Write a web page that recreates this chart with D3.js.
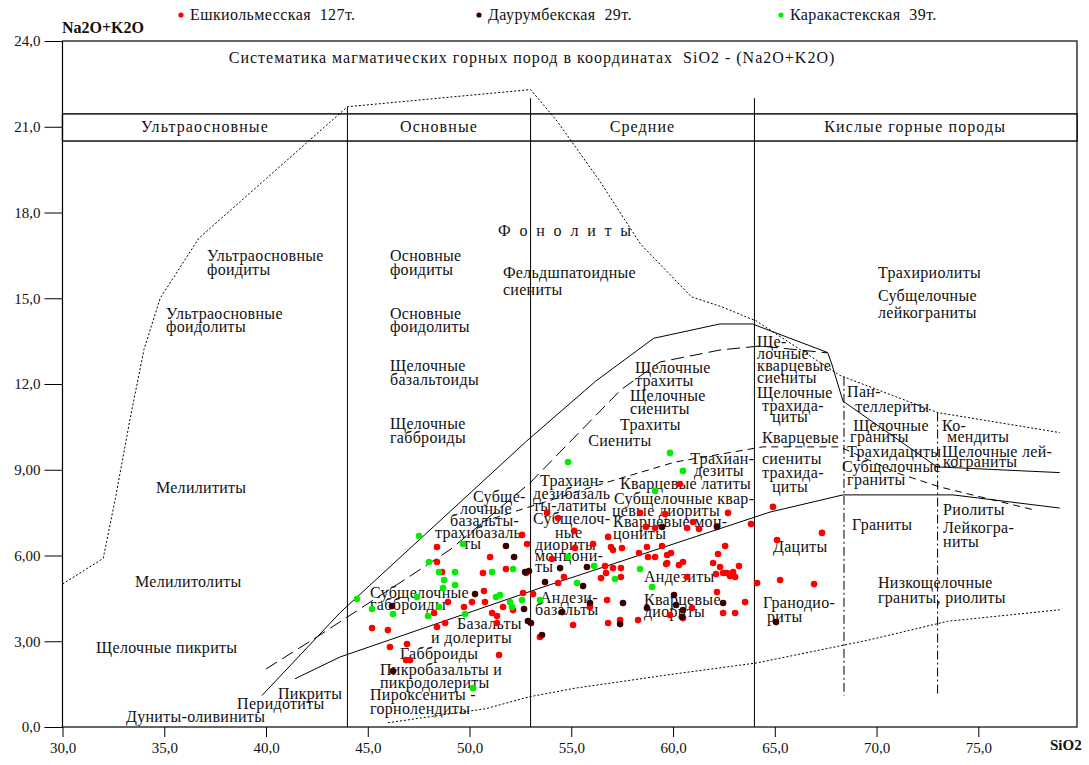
<!DOCTYPE html>
<html><head><meta charset="utf-8">
<script src="https://cdn.jsdelivr.net/npm/d3@7"></script>
<style>
html,body{margin:0;padding:0;background:#fff;}
svg{display:block;font-family:"Liberation Serif","Times New Roman",serif;}
svg text{white-space:pre;}
</style></head><body>
<svg id="chart" width="1089" height="765"></svg>
<script>
// ---------------- DATA ----------------
const seriesNames = ["Ешкиольмесская  127т.", "Даурумбекская  29т.", "Каракастекская  39т."];
const seriesColors = ["#ff0000", "#3a0000", "#00ee00"];

const xTicks = [30,35,40,45,50,55,60,65,70,75];
const xTickLabels = ["30,0","35,0","40,0","45,0","50,0","55,0","60,0","65,0","70,0","75,0"];
const yTicks = [0,3,6,9,12,15,18,21,24];
const yTickLabels = ["0,0","3,00","6,00","9,00","12,0","15,0","18,0","21,0","24,0"];

// [SiO2, Na2O+K2O]
const eshkiolmes = [
[48.40,6.30],[48.40,5.77],[48.65,5.42],[51.01,5.95],[50.66,5.39],[51.79,5.53],[52.58,6.72],[52.83,6.40],
[52.78,5.39],[50.71,4.76],[50.12,4.37],[49.73,4.20],[50.76,4.37],[48.94,4.37],[48.26,3.99],[48.40,3.50],
[48.80,3.64],[45.21,3.46],[45.99,3.39],[46.09,2.80],[46.93,2.90],[46.88,2.34],[51.45,2.52],[51.11,3.99],
[51.65,4.20],[52.14,4.09],[52.63,4.69],[53.12,4.65],[51.35,3.64],[53.46,3.15],[47.08,2.34],[51.35,3.88],
[53.81,7.49],[54.35,7.31],[55.14,6.86],[55.18,6.26],[56.81,6.65],[56.07,6.40],[56.95,6.30],[57.05,6.19],
[57.49,6.26],[58.33,6.09],[58.77,5.95],[59.12,5.95],[59.66,5.70],[58.38,7.49],[58.67,7.00],[59.12,6.96],
[59.61,7.45],[54.05,5.88],[54.64,5.25],[54.35,5.04],[56.66,5.63],[57.05,5.56],[57.44,5.56],[57.44,5.25],
[56.46,5.21],[56.76,4.44],[55.92,4.20],[55.09,3.57],[56.81,3.64],[57.40,3.74],[58.28,3.74],[60.34,8.50],
[62.70,7.49],[60.98,7.17],[60.69,6.96],[61.28,6.93],[64.91,7.70],[63.83,7.10],[65.11,6.54],[62.56,6.33],
[62.21,6.05],[59.46,6.33],[59.90,6.09],[59.71,5.74],[60.29,5.67],[60.49,5.77],[61.97,5.74],[62.31,5.60],
[62.65,5.39],[62.95,5.42],[63.24,5.63],[62.46,5.39],[62.80,5.28],[63.05,5.25],[62.11,5.35],[60.69,5.25],
[64.13,5.04],[65.26,5.14],[62.16,4.72],[63.54,4.37],[62.46,3.99],[63.05,3.99],[60.93,4.16],[59.85,3.92],
[60.49,3.81],[67.32,6.79],[66.93,5.00],[58.72,6.30],[59.71,6.02],[56.71,5.39]
];
const daurumbek = [
[51.79,6.33],[52.19,5.95],[52.73,5.42],[52.92,5.46],[50.27,4.65],[46.19,4.23],[52.68,4.13],[52.87,3.71],
[53.02,3.64],[46.24,1.96],[54.45,5.56],[53.71,5.07],[54.55,4.02],[55.77,5.60],[55.58,4.93],[55.92,4.34],
[57.54,4.34],[57.40,3.60],[53.56,3.22],[58.72,4.16],[59.46,7.00],[62.16,7.00],[60.05,4.62],[60.15,4.27],
[60.49,4.09],[60.44,3.85],[62.46,4.34],[65.06,3.67]
];
const karakastek = [
[47.52,6.68],[48.01,5.77],[48.50,5.42],[49.29,5.42],[48.75,5.14],[49.29,4.97],[49.68,6.40],[44.47,4.48],
[45.21,4.13],[46.24,3.95],[47.42,4.55],[47.96,3.88],[48.50,4.20],[48.70,4.86],[49.78,3.95],[51.11,5.42],
[51.30,4.55],[51.50,4.62],[52.14,5.53],[51.99,4.37],[52.09,4.20],[52.58,4.44],[53.46,4.44],[54.84,9.27],
[59.85,9.59],[59.12,8.26],[54.84,5.95],[56.12,5.63],[58.38,5.53],[57.15,5.18],[55.28,5.04],[58.97,4.90],
[60.49,8.96],[50.17,1.36]
];

// classification boundaries
const outerBoundary = [[30,5.0],[32,5.9],[32.6,8.0],[33.3,10.7],[34.0,13.2],[34.8,15.0],[36.7,17.1],[44,21.7],
  [53,22.3],[54.3,21.2],[56.4,19.1],[58.4,16.9],[60.9,15.05],[62.4,14.7],[64.1,14.2],[68.2,12.3],[73.0,11.0],[79,10.3]];
const lowerBoundary = [[46,0.15],[50.8,0.64],[52.9,1.05],[55.2,1.36],[60,1.85],[64.1,2.24],[69.6,3.04],[73.5,3.7],[79,4.1]];
const alkalineLine = [[39.8,1.1],[43.64,4.0],[52.8,10.0],[56.2,12.1],[59.05,13.6],[62.3,14.1],[63.9,14.1],
  [67.6,13.1],[67.8,12.7],[68.35,11.4],[72.97,9.1],[79.0,8.9]];
const subalkalineLine = [[41.43,1.69],[43.64,2.45],[53.46,4.86],[64.77,7.52],[68.35,8.12],[73.76,8.12],[79,7.66]];
const seriesDashLine = [[40.0,2.03],[42.26,3.04],[46.8,5.15],[49.04,6.2],[52.97,8.54],[57.44,11.8],[59.36,12.77],
  [62.31,13.19],[64.28,13.33],[67.57,13.09]];
const quartzDashLine = [[50.6,7.17],[52.14,7.52],[56.66,8.54],[60.1,9.27],[64.4,9.8],[68.2,9.8],[71.0,8.89],[73.1,8.4],[77.7,7.6]];
const groupBounds = [44, 53, 64];
const acidDividers = [[68.4,12.25],[73.0,11.0]];
const groupNames = ["Ультраосновные","Основные","Средние","Кислые горные породы"];
const groupCenters = [37.0, 48.5, 58.5, 71.9];

// field labels: [text, SiO2, Na2O+K2O] (left edge, baseline)
const fieldLabels = [
["Ультраосновные",37.10,16.31],["фоидиты",37.10,15.82],["Ультраосновные",35.09,14.28],["фоидолиты",35.09,13.82],
["Мелилититы",34.59,8.19],["Мелилитолиты",33.56,4.90],["Щелочные пикриты",31.65,2.59],["Дуниты-оливиниты",33.12,0.17],
["Перидотиты",38.58,0.63],["Пикриты",40.59,0.98],
["Основные",46.09,16.31],["фоидиты",46.09,15.82],["Основные",46.09,14.28],["фоидолиты",46.09,13.82],
["Щелочные",46.09,12.46],["базальтоиды",46.09,11.97],["Щелочные",46.09,10.43],["габброиды",46.09,9.94],
["Фельдшпатоидные",51.64,15.71],["сиениты",51.64,15.12],
["Щелочные",58.13,12.39],["трахиты",58.13,11.93],["Щелочные",57.89,11.41],["сиениты",57.89,10.95],
["Трахиты",57.40,10.39],["Сиениты",55.83,9.83],["Трахиан-",60.84,9.20],["дезиты",61.03,8.78],
["Трахиан-",53.46,8.43],["дезибазаль",53.12,7.98],["ты-латиты",53.12,7.56],
["Субщелоч-",53.12,7.10],["ные",54.20,6.61],["диориты",53.22,6.19],["монцони-",53.22,5.81],["ты",53.22,5.42],
["Кварцевые латиты",57.40,8.33],["Субщелочные квар-",57.10,7.80],["цевые диориты",57.00,7.38],
["Кварцевые мон-",57.05,7.00],["цониты",57.05,6.58],["Андезиты",58.57,5.07],["Кварцевые",58.57,4.27],["диориты",58.57,3.85],
["Андези-",53.46,4.34],["базальты",53.22,3.92],
["Субще-",50.17,7.87],["лочные",49.53,7.45],["базальты-",49.04,7.03],["трахибазаль",48.30,6.61],["ты",49.68,6.23],
["Субщелочные",45.11,4.51],["габброиды",45.11,4.09],["Базальты",49.39,3.43],["и долериты",48.11,2.94],
["Габброиды",46.58,2.38],["Пикробазальты и",45.60,1.82],["пикродолериты",45.60,1.36],
["Пироксениты -",45.11,0.94],["горнолендиты",45.11,0.45],
["Ще-",64.13,13.30],["лочные",64.13,12.88],["кварцевые",64.13,12.46],["сиениты",64.13,12.04],
["Щелочные",64.13,11.51],["трахида-",64.37,11.06],["циты",64.86,10.67],["Кварцевые",64.37,9.94],
["сиениты",64.37,9.20],["трахида-",64.37,8.71],["циты",64.86,8.22],
["Пан-",68.55,11.55],["теллериты",68.95,11.02],["Щелочные",68.85,10.36],["граниты",68.70,9.97],
["Трахидациты",68.55,9.45],["Субщелочные",68.30,8.92],["граниты",68.55,8.47],
["Ко-",73.22,10.36],["мендиты",73.46,9.97],["Щелочные лей-",73.22,9.45],["кограниты",73.27,9.10],
["Граниты",68.80,6.89],["Риолиты",73.27,7.42],["Лейкогра-",73.27,6.79],["ниты",73.27,6.30],
["Дациты",64.91,6.12],["Низкощелочные",70.07,4.86],["граниты, риолиты",70.07,4.34],
["Гранодио-",64.42,4.16],["риты",64.62,3.67],
["Трахириолиты",70.07,15.71],["Субщелочные",70.07,14.91],["лейкограниты",70.07,14.31]
];
const phonoliteLabel = ["Ф о н о л и т ы", 51.40, 17.18];
const chartTitle = "Систематика магматических горных пород в координатах  SiO2 - (Na2O+K2O)";

// ---------------- DRAW ----------------
const svg = d3.select("#chart");
const x = d3.scaleLinear().domain([30, 79.85]).range([62.5, 1077]);
const y = d3.scaleLinear().domain([0, 24]).range([727, 41]);
const line = d3.line().x(d => x(d[0])).y(d => y(d[1]));

// frame
svg.append("rect").attr("x", x(30)).attr("y", y(24)).attr("width", x(79.85)-x(30)).attr("height", y(0)-y(24))
  .attr("fill","none").attr("stroke","#000").attr("stroke-width",1.2);

// axes
const ax = svg.append("g").attr("transform",`translate(0,${y(0)})`)
  .call(d3.axisBottom(x).tickValues(xTicks).tickFormat((d,i)=>xTickLabels[i]).tickSize(10).tickPadding(5));
const ay = svg.append("g").attr("transform",`translate(${x(30)},0)`)
  .call(d3.axisLeft(y).tickValues(yTicks).tickFormat((d,i)=>yTickLabels[i]).tickSize(18).tickPadding(4));
[ax, ay].forEach(g => {
  g.select(".domain").remove();
  g.selectAll("text").attr("font-family","Liberation Serif").attr("font-size",15).attr("fill","#111");
  g.selectAll("line").attr("stroke","#000");
});

// group vertical boundaries
svg.selectAll(".gb").data(groupBounds).join("line")
  .attr("x1", d=>x(d)).attr("x2", d=>x(d)).attr("y1", d=> d===44 ? y(21.7) : y(22.0)).attr("y2", y(0))
  .attr("stroke","#000").attr("stroke-width",1);

// header band
svg.append("rect").attr("x", x(30)).attr("y", y(21.45)).attr("width", x(79.85)-x(30)).attr("height", y(20.5)-y(21.45))
  .attr("fill","#fff").attr("stroke","#000").attr("stroke-width",1.4);
svg.selectAll(".gbb").data(groupBounds).join("line")
  .attr("x1", d=>x(d)).attr("x2", d=>x(d)).attr("y1", y(21.45)).attr("y2", y(20.5)).attr("stroke","#000");
svg.selectAll(".gn").data(groupNames).join("text")
  .attr("x",(d,i)=>x(groupCenters[i])).attr("y", y(20.975)+5).attr("text-anchor","middle")
  .attr("font-size",16).attr("letter-spacing",1.1).attr("fill","#111").text(d=>d);

// boundary lines
const drawLine = (pts, dash, w) => svg.append("path").datum(pts).attr("d", line)
  .attr("fill","none").attr("stroke","#000").attr("stroke-width", w||1).attr("stroke-dasharray", dash||null);
drawLine(outerBoundary, "2,2", 1);
drawLine(lowerBoundary, "2,2", 1);
drawLine(alkalineLine, null, 1);
drawLine(subalkalineLine, null, 1);
drawLine(seriesDashLine, "13,6", 1);
drawLine(quartzDashLine, "7,5", 1);
acidDividers.forEach(d => drawLine([[d[0], d[1]],[d[0],1.1]], "9,3,2,3", 1));

// title
svg.append("text").attr("x", 532).attr("y", 63).attr("text-anchor","middle").attr("font-size",16)
  .attr("letter-spacing",1).attr("fill","#111").text(chartTitle);

// field labels
svg.append("g").selectAll("text").data(fieldLabels).join("text")
  .attr("x", d=>x(d[1])).attr("y", d=>y(d[2])).attr("font-size",16).attr("letter-spacing",0.3)
  .attr("fill","#111").text(d=>d[0]);
svg.append("text").attr("x", x(phonoliteLabel[1])).attr("y", y(phonoliteLabel[2])).attr("font-size",16)
  .attr("letter-spacing",2.4).attr("fill","#111").text(phonoliteLabel[0]);

// points
const allSeries = [eshkiolmes, daurumbek, karakastek];
allSeries.forEach((s, i) => {
  svg.append("g").selectAll("circle").data(s).join("circle")
    .attr("cx", d=>x(d[0])).attr("cy", d=>y(d[1])).attr("r", 3.3).attr("fill", seriesColors[i]);
});

// legend
const legX = [181, 479, 781];
seriesNames.forEach((n, i) => {
  svg.append("circle").attr("cx", legX[i]).attr("cy", 15).attr("r", 2.6).attr("fill", seriesColors[i]);
  svg.append("text").attr("x", legX[i]+9).attr("y", 20).attr("font-size",16).attr("letter-spacing",0.4)
    .attr("fill","#111").text(n);
});

// axis titles
svg.append("text").attr("x", 62).attr("y", 33).attr("font-size",16).attr("font-weight","bold").attr("fill","#111").text("Na2O+K2O");
svg.append("text").attr("x", 1050).attr("y", 750).attr("font-size",15).attr("font-weight","bold").attr("fill","#111").text("SiO2");
</script>
</body></html>
